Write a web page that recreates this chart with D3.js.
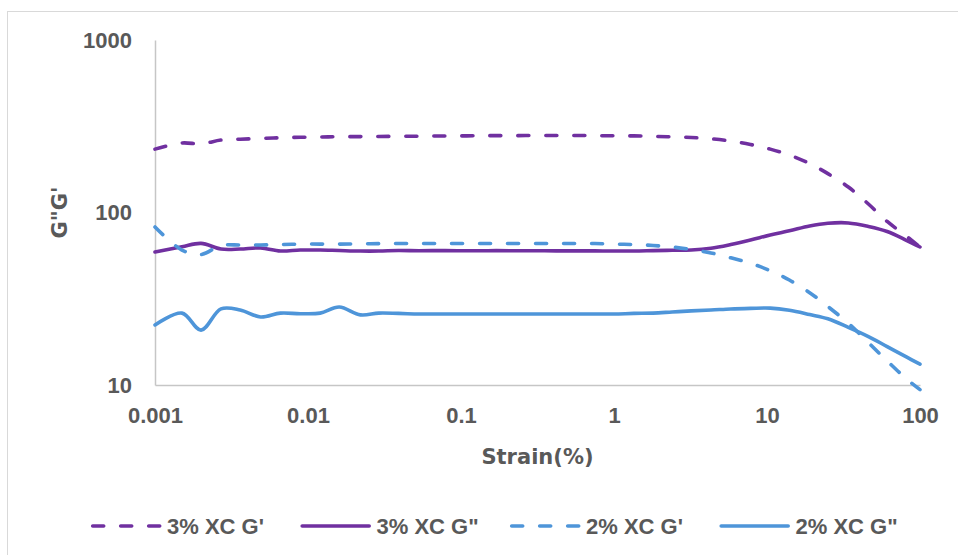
<!DOCTYPE html>
<html>
<head>
<meta charset="utf-8">
<script src="https://cdn.jsdelivr.net/npm/d3@7"></script>
<style>
  body { margin: 0; background: #fff; }
  svg { display: block; }
</style>
</head>
<body>
<svg id="chart" width="958" height="555"></svg>
<script>
// Strain amplitude sweep (%), shared by all four series
const strain = [0.001, 0.0015, 0.002, 0.0027, 0.0036, 0.0049, 0.0066, 0.0089, 0.012, 0.016,
  0.022, 0.029, 0.039, 0.053, 0.071, 0.095, 0.13, 0.17, 0.23, 0.31,
  0.42, 0.56, 0.75, 1.0, 1.35, 1.8, 2.4, 3.2, 4.3, 5.8,
  7.8, 10.5, 14, 19, 25, 34, 46, 61, 82, 100];

// 3% xanthan: storage modulus G' (Pa)
const xc3Storage = [233, 253, 250, 263, 266, 269, 271, 273, 274, 275,
  275.5, 276, 276.5, 277, 277.5, 278, 278.5, 279, 279, 279.5,
  279.5, 279.5, 279, 278.5, 278, 276.5, 274.5, 272, 267.6, 259.8,
  247.9, 233, 215.5, 192, 168, 140.5, 112, 88.7, 72.6, 63];

// 3% xanthan: loss modulus G" (Pa)
const xc3Loss = [59.0, 63.3, 66.2, 61.4, 61.4, 62.3, 59.8, 60.6, 60.6, 60.2,
  59.8, 59.8, 60.2, 60.0, 60.1, 60.0, 60.0, 60.1, 60.0, 60.0,
  59.9, 59.9, 59.9, 59.8, 59.8, 60.1, 60.4, 60.6, 62.0, 65.2,
  69.3, 74.1, 78.3, 83.5, 86.6, 87.0, 83.0, 77.6, 68.8, 63.1];

// 2% xanthan: storage modulus G' (Pa)
const xc2Storage = [82.4, 60.6, 57.1, 64.4, 64.8, 64.8, 65.2, 65.6, 65.6, 65.6,
  65.8, 66.0, 66.1, 66.1, 66.1, 66.1, 66.1, 66.1, 66.1, 66.1,
  66.1, 66.1, 66.1, 65.6, 65.2, 64.4, 63.1, 61.0, 58.3, 54.6,
  50.8, 46.0, 40.6, 34.3, 28.5, 22.8, 17.6, 13.8, 10.8, 9.4];

// 2% xanthan: loss modulus G" (Pa)
const xc2Loss = [22.3, 26.1, 20.8, 27.6, 27.2, 24.8, 26.1, 25.9, 26.1, 28.3,
  25.5, 26.1, 26.0, 25.8, 25.8, 25.8, 25.8, 25.8, 25.8, 25.8,
  25.8, 25.8, 25.8, 25.8, 26.0, 26.1, 26.5, 26.9, 27.2, 27.6,
  27.8, 27.9, 27.1, 25.6, 24.2, 21.6, 19.1, 16.7, 14.5, 13.2];

const xTicks = [0.001, 0.01, 0.1, 1, 10, 100];
const yTicks = [10, 100, 1000];
const seriesNames = ["3% XC G'", '3% XC G"', "2% XC G'", '2% XC G"'];

const purple = "#7030A0";
const blue = "#4E95D9";
const textGray = "#595959";
const axisGray = "#C6C6C6";

const series = [
  { name: seriesNames[0], values: xc3Storage, color: purple, dashed: true },
  { name: seriesNames[1], values: xc3Loss, color: purple, dashed: false },
  { name: seriesNames[2], values: xc2Storage, color: blue, dashed: true },
  { name: seriesNames[3], values: xc2Loss, color: blue, dashed: false }
];

const svg = d3.select("#chart");

// outer chart frame
svg.append("rect")
  .attr("x", 7.5).attr("y", 11.5)
  .attr("width", 980).attr("height", 600)
  .attr("fill", "none")
  .attr("stroke", "#D9D9D9")
  .attr("stroke-width", 1);

const plot = { left: 155, right: 920, top: 40, bottom: 385 };

const x = d3.scaleLog().domain([0.001, 100]).range([plot.left, plot.right]);
const y = d3.scaleLog().domain([10, 1000]).range([plot.bottom, plot.top]);

const tickFont = "'Liberation Sans', Arial, sans-serif";
const titleFont = "'DejaVu Sans', sans-serif";

// y axis
const yAxis = svg.append("g")
  .attr("transform", `translate(${plot.left},0)`)
  .call(d3.axisLeft(y).tickValues(yTicks).tickFormat(d => String(d))
    .tickSize(0).tickSizeOuter(0).tickPadding(23));

// x axis
const xAxis = svg.append("g")
  .attr("transform", `translate(0,${plot.bottom})`)
  .call(d3.axisBottom(x).tickValues(xTicks).tickFormat(d => String(d))
    .tickSize(0).tickSizeOuter(0).tickPadding(22));

[xAxis, yAxis].forEach(g => {
  g.select(".domain").attr("stroke", axisGray).attr("stroke-width", 1.5);
  g.selectAll("text")
    .attr("fill", textGray)
    .style("font-family", tickFont)
    .style("font-size", "22px")
    .style("font-weight", "bold");
});

// axis titles
svg.append("text")
  .attr("x", (plot.left + plot.right) / 2)
  .attr("y", 464)
  .attr("text-anchor", "middle")
  .attr("fill", textGray)
  .style("font-family", titleFont)
  .style("font-size", "21px")
  .style("font-weight", "bold")
  .text("Strain(%)");

svg.append("text")
  .attr("transform", `translate(66.5,${(plot.top + plot.bottom) / 2}) rotate(-90)`)
  .attr("text-anchor", "middle")
  .attr("fill", textGray)
  .style("font-family", titleFont)
  .style("font-size", "21px")
  .style("font-weight", "bold")
  .text('G"G\'');

// smoothed series lines
const line = d3.line()
  .x((d, i) => x(strain[i]))
  .y(d => y(d))
  .curve(d3.curveCatmullRom.alpha(0.5));

const dashPattern = "11,17";
const lineWidth = 3.6;

svg.append("g")
  .selectAll("path")
  .data(series)
  .join("path")
  .attr("d", s => line(s.values))
  .attr("fill", "none")
  .attr("stroke", s => s.color)
  .attr("stroke-width", lineWidth)
  .attr("stroke-linecap", "round")
  .attr("stroke-linejoin", "round")
  .attr("stroke-dasharray", s => s.dashed ? dashPattern : null);

// legend: four evenly spaced entries along the bottom
const legend = svg.append("g").attr("transform", "translate(0,526)");
const legendStart = 92.7;
const legendStep = 209.5;
series.forEach((s, i) => {
  const x0 = legendStart + i * legendStep;
  const item = legend.append("g");
  item.append("line")
    .attr("x1", x0).attr("x2", x0 + 67)
    .attr("y1", 0).attr("y2", 0)
    .attr("stroke", s.color)
    .attr("stroke-width", lineWidth)
    .attr("stroke-linecap", "round")
    .attr("stroke-dasharray", s.dashed ? dashPattern : null);
  item.append("text")
    .attr("x", x0 + 74.3)
    .attr("y", 7.5)
    .attr("fill", textGray)
    .style("font-family", tickFont)
    .style("font-size", "22px")
    .style("font-weight", "bold")
    .text(s.name);
});
</script>
</body>
</html>
